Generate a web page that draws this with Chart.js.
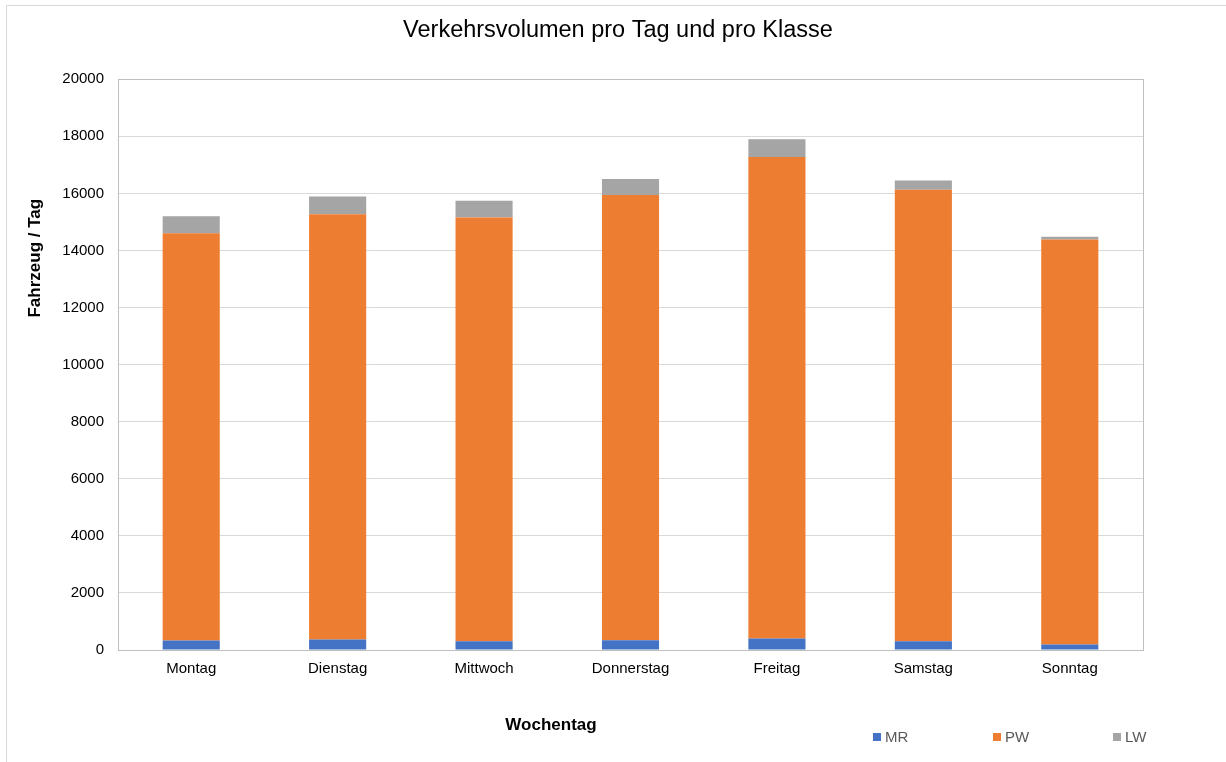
<!DOCTYPE html>
<html>
<head>
<meta charset="utf-8">
<script src="https://cdn.jsdelivr.net/npm/chart.js@4"></script>
<style>
  html, body { margin: 0; padding: 0; background: #fff; overflow: hidden; }
  #frame { position: absolute; left: 6px; top: 5px; width: 1300px; height: 800px; border: 1px solid #d9d9d9; }
  #wrap { position: absolute; left: 0; top: 0; width: 1226px; height: 762px; }
</style>
</head>
<body>
<div id="frame"></div>
<div id="wrap"><canvas id="chart1"></canvas></div>
<script>
// Werte
const days = ['Montag', 'Dienstag', 'Mittwoch', 'Donnerstag', 'Freitag', 'Samstag', 'Sonntag'];
const mr = [330, 370, 310, 340, 400, 310, 190];
const pw = [14270, 14900, 14840, 15600, 16870, 15820, 14190];
const lw = [600, 620, 590, 560, 630, 320, 100];
const yTicks = [0, 2000, 4000, 6000, 8000, 10000, 12000, 14000, 16000, 18000, 20000];

const font = 'Liberation Sans, Arial, sans-serif';
Chart.defaults.font.family = font;

// plot frame, axis titles and legend drawn by hand (Excel puts them off-centre)
const excelBits = {
  id: 'excelBits',
  beforeDatasetsDraw(chart) {
    const a = chart.chartArea, ctx = chart.ctx;
    ctx.save();
    ctx.strokeStyle = '#bfbfbf';
    ctx.lineWidth = 1;
    ctx.strokeRect(Math.round(a.left) + 0.5, Math.round(a.top) + 0.5, Math.round(a.right - a.left), Math.round(a.bottom - a.top));
    ctx.restore();
  },
  afterDraw(chart) {
    const a = chart.chartArea, ctx = chart.ctx;
    ctx.save();
    ctx.textBaseline = 'middle';
    ctx.textAlign = 'center';
    ctx.fillStyle = '#000';
    ctx.font = 'bold 17px ' + font;
    ctx.fillText('Wochentag', a.left + 433, a.bottom + 75);

    ctx.save();
    ctx.translate(35, a.top + 179);
    ctx.rotate(-Math.PI / 2);
    ctx.fillText('Fahrzeug / Tag', 0, 0);
    ctx.restore();

    ctx.textAlign = 'left';
    ctx.font = '15px ' + font;
    chart.data.datasets.forEach((ds, i) => {
      const x = a.right - 270 + i * 120;
      const y = a.bottom + 87;
      ctx.fillStyle = ds.backgroundColor;
      ctx.fillRect(x, y - 4, 8, 8);
      ctx.fillStyle = '#595959';
      ctx.fillText(ds.label, x + 12, y + 1);
    });
    ctx.restore();
  }
};

const data = {
  labels: days,
  datasets: [
    { label: 'MR', data: mr, backgroundColor: '#4472C4' },
    { label: 'PW', data: pw, backgroundColor: '#ED7D31' },
    { label: 'LW', data: lw, backgroundColor: '#A5A5A5' }
  ]
};

const options = {
  responsive: true,
  maintainAspectRatio: false,
  animation: false,
  layout: { padding: { top: 5, left: 10, right: 0, bottom: 82 } },
  datasets: { bar: { barPercentage: 0.39, categoryPercentage: 1 } },
  plugins: {
    legend: { display: false },
    tooltip: { enabled: false },
    title: {
      display: true,
      text: 'Verkehrsvolumen pro Tag und pro Klasse',
      color: '#000',
      font: { size: 23.5, weight: 'normal' },
      padding: { top: 11, bottom: 35 }
    }
  },
  scales: {
    x: {
      stacked: true,
      grid: { display: false },
      border: { display: false },
      ticks: { color: '#000', font: { size: 15 }, padding: 2 }
    },
    y: {
      stacked: true,
      min: 0,
      max: 20000,
      afterBuildTicks: s => { s.ticks = yTicks.map(v => ({ value: v })); },
      afterFit: s => { s.width = 108; },
      grid: { color: '#d9d9d9', drawTicks: false },
      border: { display: false },
      ticks: { color: '#000', font: { size: 15 }, padding: 14, callback: v => String(v) }
    },
    // empty strip on the right, keeps the title centred on the whole chart
    spacer: {
      position: 'right',
      afterFit: s => { s.width = 83; },
      grid: { display: false },
      border: { display: false },
      ticks: { display: false }
    }
  }
};

const ctx = document.getElementById('chart1').getContext('2d');
const myChart = new Chart(ctx, {
  type: 'bar',
  data: data,
  options: options,
  plugins: [excelBits]
});
</script>
</body>
</html>
